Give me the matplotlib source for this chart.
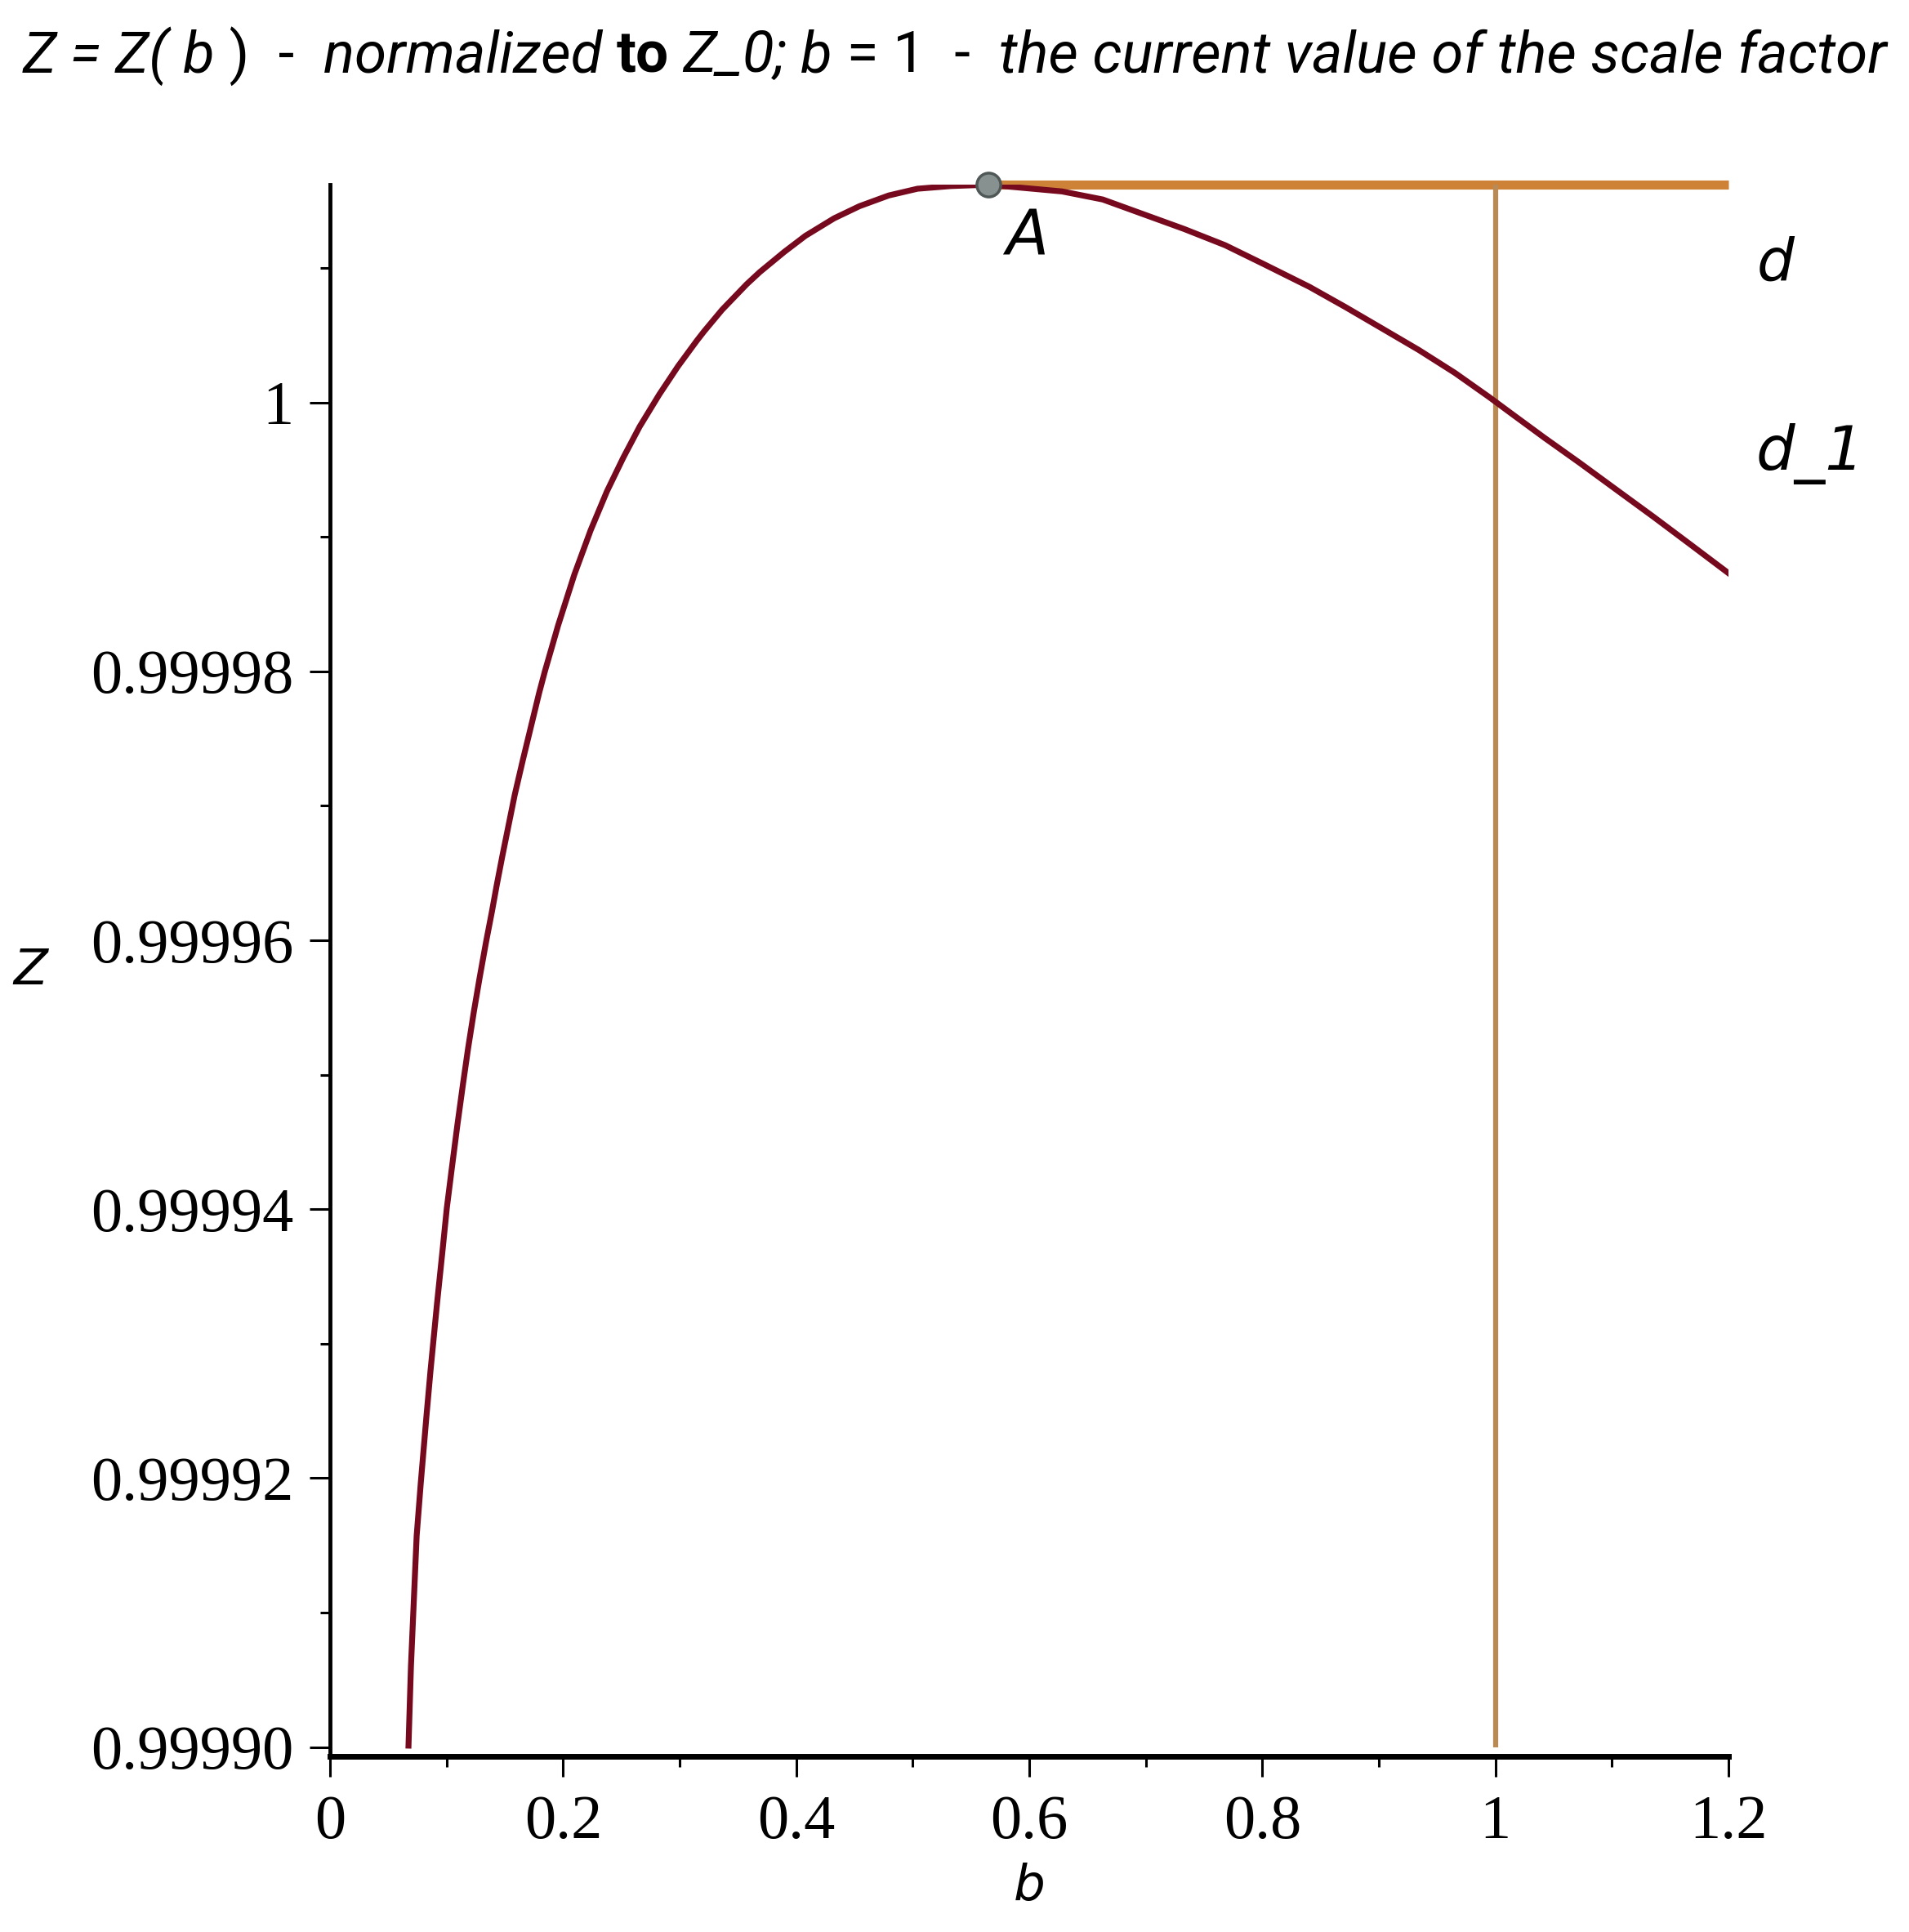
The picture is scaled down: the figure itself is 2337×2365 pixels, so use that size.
import matplotlib
matplotlib.use("Agg")
import matplotlib.pyplot as plt

# curve Z(b), values
b_vals = [0.0673, 0.0694, 0.0743, 0.0778, 0.0827, 0.0862, 0.0918, 0.0967, 0.1002, 0.1044,
          0.1093, 0.1142, 0.1185, 0.1234, 0.1283, 0.1339, 0.1388, 0.1430, 0.1479, 0.1535,
          0.1584, 0.1654, 0.1724, 0.1794, 0.1843, 0.1913, 0.1956, 0.2026, 0.2096, 0.2236,
          0.2376, 0.2516, 0.2656, 0.2825, 0.2986, 0.3147, 0.3210, 0.3364, 0.3575, 0.3687,
          0.3897, 0.4079, 0.4325, 0.4542, 0.4794, 0.5040, 0.5327, 0.5649, 0.6280, 0.6630,
          0.6980, 0.7330, 0.7680, 0.8010, 0.8404, 0.8712, 0.9028, 0.9343, 0.9652, 0.9946,
          1.0149, 1.0416, 1.0724, 1.1039, 1.1355, 1.1663, 1.2000]
z_vals = [0.9999001, 0.9999060, 0.9999157, 0.9999196, 0.9999246, 0.9999280, 0.9999330, 0.9999371,
          0.9999401, 0.9999430, 0.9999463, 0.9999494, 0.9999520, 0.9999547, 0.9999572, 0.9999599,
          0.9999621, 0.9999641, 0.9999663, 0.9999687, 0.9999708, 0.9999734, 0.9999759, 0.9999784,
          0.9999800, 0.9999821, 0.9999834, 0.9999853, 0.9999872, 0.9999905, 0.9999934, 0.9999959,
          0.9999982, 1.0000006, 1.0000027, 1.0000046, 1.0000053, 1.0000069, 1.0000088, 1.0000097,
          1.0000112, 1.0000124, 1.0000137, 1.0000146, 1.0000154, 1.0000159, 1.0000161, 1.0000162,
          1.0000157, 1.0000151, 1.0000140, 1.0000129, 1.0000117, 1.0000103, 1.0000086, 1.0000071,
          1.0000055, 1.0000039, 1.0000022, 1.0000004, 0.9999991, 0.9999974, 0.9999955, 0.9999935,
          0.9999915, 0.9999895, 0.9999873]

# point A (maximum) and the lines d, d_1
b_A = 0.5649
z_A = 1.0000162
b_cur = 1.0
z_low = 0.99990

x_ticks = [0, 0.2, 0.4, 0.6, 0.8, 1.0, 1.2]
x_labels = ["0", "0.2", "0.4", "0.6", "0.8", "1", "1.2"]
x_minor = [0.1, 0.3, 0.5, 0.7, 0.9, 1.1]
y_ticks = [0.99990, 0.99992, 0.99994, 0.99996, 0.99998, 1.0]
y_labels = ["0.99990", "0.99992", "0.99994", "0.99996", "0.99998", "1"]
y_minor = [0.99991, 0.99993, 0.99995, 0.99997, 0.99999, 1.00001]

title_parts = ["Z = Z( ", "b", " )  -  ", "normalized ", "to", " Z_0; ", "b", " = 1  -  ",
               "the current value of the scale factor"]
title_styles = ["italic", "italic", "normal", "italic", "normal", "italic", "italic", "normal", "italic"]
title_weights = ["normal", "normal", "normal", "normal", "bold", "normal", "normal", "normal", "normal"]

fig = plt.figure(figsize=(23.37, 23.65), dpi=100)
ax = fig.add_axes([0.1729, 0.0909, 0.7326, 0.8135])

ax.plot(b_vals, z_vals, color="#76091d", lw=5.2, zorder=3, solid_joinstyle="round")
ax.plot([b_A, 1.2], [z_A, z_A], color="#cd8238", lw=8, clip_on=False, zorder=2, solid_capstyle="butt")
ax.plot([b_cur, b_cur], [z_A, z_low], color="#b98a55", lw=4.5, clip_on=False, zorder=2, solid_capstyle="butt")
ax.plot([b_A], [z_A], marker="o", ms=21, color="#87918f", mec="#4f5856", mew=2.5, clip_on=False, zorder=4)

ax.set_xlim(0, 1.2)
ax.set_ylim(0.9998993, 1.0000162)

for s in ["top", "right"]:
    ax.spines[s].set_visible(False)
ax.spines["left"].set_linewidth(3.5)
ax.spines["bottom"].set_linewidth(5)

ax.set_xticks(x_ticks)
ax.set_xticklabels(x_labels)
ax.set_xticks(x_minor, minor=True)
ax.set_yticks(y_ticks)
ax.set_yticklabels(y_labels)
ax.set_yticks(y_minor, minor=True)
ax.tick_params(which="major", length=18, width=2.2, direction="out")
ax.tick_params(which="minor", length=9, width=2.2, direction="out")
ax.tick_params(axis="x", which="major", pad=16)
ax.tick_params(axis="y", which="major", pad=14)
for lab in ax.get_xticklabels() + ax.get_yticklabels():
    lab.set_fontfamily("Liberation Serif")
    lab.set_fontsize(55)

ax.text(-0.214, 0.5, "Z", transform=ax.transAxes, fontsize=44, style="italic",
        ha="center", va="center")
ax.text(0.5, -0.083, "b", transform=ax.transAxes, fontsize=44, style="italic",
        ha="center", va="center")

ax.text(b_A + 0.033, 1.0000123, "A", fontsize=55, style="italic", ha="center", va="center")
ax.text(1.24, 1.0000103, "d", fontsize=52, style="italic", ha="center", va="center", clip_on=False)
ax.text(1.27, 0.9999962, "d_1", fontsize=54, style="italic", ha="center", va="center", clip_on=False)

# title made of pieces with different styles, chained left to right
fam = "Roboto"
tparts = [fig.text(0.012, 0.971, title_parts[0], fontsize=40, style=title_styles[0],
                   weight=title_weights[0], family=fam, ha="left", va="center")]
for txt, st, wt in zip(title_parts[1:], title_styles[1:], title_weights[1:]):
    tparts.append(ax.annotate(txt, xy=(1, 0.5), xycoords=tparts[-1], xytext=(0, 0),
                              textcoords="offset points", fontsize=40, style=st, weight=wt,
                              family=fam, ha="left", va="center", annotation_clip=False))

# scale the title so it spans the same width as in the reference
fig.canvas.draw()
r = fig.canvas.get_renderer()
w = tparts[-1].get_window_extent(r).x1 - tparts[0].get_window_extent(r).x0
for t in tparts:
    t.set_fontsize(40 * 2280 / w)

fig.savefig("out.png", dpi=100)
